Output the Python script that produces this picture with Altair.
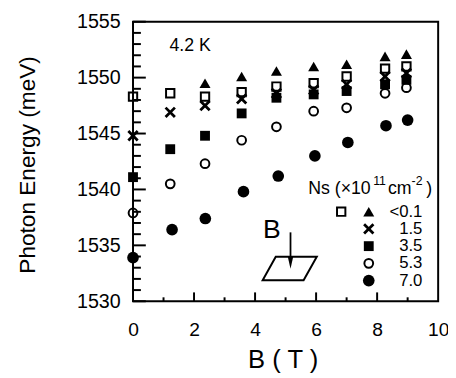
import altair as alt
import pandas as pd

# ---------------- data ----------------
B_T = [0, 1.22, 2.36, 3.56, 4.7, 5.92, 7.0, 8.26, 8.96]
B_T_filled_circle = [0, 1.28, 2.37, 3.62, 4.76, 5.96, 7.04, 8.29, 9.0]

E_open_square = [1548.3, 1548.6, 1548.3, 1548.7, 1549.2, 1549.5, 1550.1, 1550.8, 1551.0]
E_triangle = [None, None, 1549.5, 1550.1, 1550.6, 1551.0, 1551.2, 1551.9, 1552.1]
E_cross_1p5 = [1544.8, 1546.9, 1547.5, 1548.1, 1548.6, 1548.9, 1549.4, 1550.1, 1550.4]
E_square_3p5 = [1541.1, 1543.6, 1544.8, 1546.8, 1548.2, 1548.5, 1548.8, 1549.4, 1549.8]
E_circle_5p3 = [1537.9, 1540.5, 1542.3, 1544.4, 1545.6, 1547.0, 1547.3, 1548.6, 1549.1]
E_disc_7p0 = [1533.9, 1536.4, 1537.4, 1539.8, 1541.2, 1543.0, 1544.2, 1545.7, 1546.2]

legend_labels = ["<0.1", "1.5", "3.5", "5.3", "7.0"]
x_tick_labels = [0, 2, 4, 6, 8, 10]
x_minor_ticks = [1, 3, 5, 7, 9]
y_tick_labels = [1530, 1535, 1540, 1545, 1550, 1555]
y_minor_ticks = [v for v in range(1530, 1556) if v % 5 != 0]

FONT = "Liberation Sans"
W, H = 310, 284

# ---------------- styles ----------------
X_PATH = "M-1,-1L1,1M1,-1L-1,1"
styles = {
    "sq0": dict(shape="square", filled=False, size=72, strokeWidth=2),
    "tri": dict(shape="triangle-up", filled=True, size=125, strokeWidth=0),
    "x15": dict(shape=X_PATH, filled=False, size=90, strokeWidth=2.8),
    "sq35": dict(shape="square", filled=True, size=100, strokeWidth=0),
    "c53": dict(shape="circle", filled=False, size=79, strokeWidth=2),
    "c70": dict(shape="circle", filled=True, size=140, strokeWidth=0),
}

series = [
    ("sq0", B_T, E_open_square),
    ("tri", B_T, E_triangle),
    ("x15", B_T, E_cross_1p5),
    ("sq35", B_T, E_square_3p5),
    ("c53", B_T, E_circle_5p3),
    ("c70", B_T_filled_circle, E_disc_7p0),
]

x_scale = alt.Scale(domain=[0, 10], nice=False, zero=False)
y_scale = alt.Scale(domain=[1530, 1555], nice=False, zero=False)

x_axis = alt.Axis(
    values=x_tick_labels, format="d", grid=False, ticks=False, domain=False,
    labelFont=FONT, labelFontSize=19.5, labelPadding=20, labelFlush=False,
    labelOverlap=False, labelColor="black",
    title="B ( T )", titleFont=FONT, titleFontSize=26, titleFontWeight="normal",
    titleColor="black", titleX=W / 2 - 3, titleY=67, titleAlign="center",
    titleBaseline="alphabetic",
)
y_axis = alt.Axis(
    values=y_tick_labels, format="d", grid=False, ticks=False, domain=False,
    labelFont=FONT, labelFontSize=20, labelPadding=13, labelOverlap=False,
    labelColor="black",
    title="Photon Energy (meV)", titleFont=FONT, titleFontSize=23,
    titleFontWeight="normal", titleColor="black", titleX=-107, titleY=145,
    titleAngle=270, titleAlign="center", titleBaseline="middle",
)

def X(field):
    return alt.X(f"{field}:Q", scale=x_scale, axis=x_axis)

def Y(field):
    return alt.Y(f"{field}:Q", scale=y_scale, axis=y_axis)

layers = []

# inward ticks
layers.append(alt.Chart(pd.DataFrame({"E": y_tick_labels})).mark_rule(color="black", strokeWidth=2)
              .encode(y=Y("E"), x=alt.value(0), x2=alt.value(13)))
layers.append(alt.Chart(pd.DataFrame({"E": y_minor_ticks})).mark_rule(color="black", strokeWidth=2)
              .encode(y=Y("E"), x=alt.value(0), x2=alt.value(8)))
layers.append(alt.Chart(pd.DataFrame({"B": x_tick_labels[1:-1]})).mark_rule(color="black", strokeWidth=2)
              .encode(x=X("B"), y=alt.value(H), y2=alt.value(H - 9)))
layers.append(alt.Chart(pd.DataFrame({"B": x_minor_ticks})).mark_rule(color="black", strokeWidth=2)
              .encode(x=X("B"), y=alt.value(H), y2=alt.value(H - 4)))

# data points
for key, bs, es in series:
    rows = [{"B": b, "E": e} for b, e in zip(bs, es) if e is not None]
    st = styles[key]
    layers.append(
        alt.Chart(pd.DataFrame(rows)).mark_point(
            shape=st["shape"], filled=st["filled"], size=st["size"],
            strokeWidth=st["strokeWidth"], color="black", opacity=1,
        ).encode(x=X("B"), y=Y("E"))
    )

one = alt.Data(values=[{}])

def text(t, x, y, size, align="left", baseline="middle"):
    return alt.Chart(one).mark_text(
        text=t, font=FONT, fontSize=size, align=align, baseline=baseline, color="black"
    ).encode(x=alt.value(x), y=alt.value(y))

# annotations
layers.append(text("4.2 K", 37, 25, 18))

# legend title with superscripts
layers.append(text("Ns (×10", 178, 175, 18, baseline="alphabetic"))
layers.append(text("11", 244, 166, 12.5, baseline="alphabetic"))
layers.append(text("cm", 259, 175, 18, baseline="alphabetic"))
layers.append(text("-2", 283, 166, 12.5, baseline="alphabetic"))
layers.append(text(")", 298, 175, 18, baseline="alphabetic"))

legend_rows = [["sq0", "tri"], ["x15"], ["sq35"], ["c53"], ["c70"]]
for i, (lab, keys) in enumerate(zip(legend_labels, legend_rows)):
    yy = 193 + 17.5 * i
    layers.append(text(lab, 294, yy, 17, align="right"))
    for key in keys:
        st = styles[key]
        xx = 211.5 if key == "sq0" else 239.5
        layers.append(
            alt.Chart(one).mark_point(
                shape=st["shape"], filled=st["filled"], size=st["size"],
                strokeWidth=st["strokeWidth"], color="black", opacity=1,
            ).encode(x=alt.value(xx), y=alt.value(yy))
        )

# sample sketch: B, arrow, parallelogram
layers.append(text("B", 141, 212, 27, align="center"))
layers.append(alt.Chart(one).mark_rule(color="black", strokeWidth=1.8)
              .encode(x=alt.value(160), y=alt.value(214), y2=alt.value(244)))
layers.append(alt.Chart(one).mark_point(
    shape="M0,1L-0.45,-1L0.45,-1Z", filled=True, size=144, color="black", opacity=1, strokeWidth=0
).encode(x=alt.value(160), y=alt.value(245)))
layers.append(alt.Chart(one).mark_point(
    shape="M-0.516,-0.436L1,-0.436L0.513,0.436L-1,0.436Z", filled=False, size=3025,
    color="black", opacity=1, strokeWidth=2
).encode(x=alt.value(159.2), y=alt.value(250.7)))

chart = alt.layer(*layers).properties(
    width=W, height=H,
    autosize=alt.AutoSizeParams(type="none"),
    padding={"left": 127, "top": 11, "right": 10, "bottom": 73},
).configure_view(stroke="black", strokeWidth=2)

chart.save("out.html", embed_options={"renderer": "svg", "actions": False})
